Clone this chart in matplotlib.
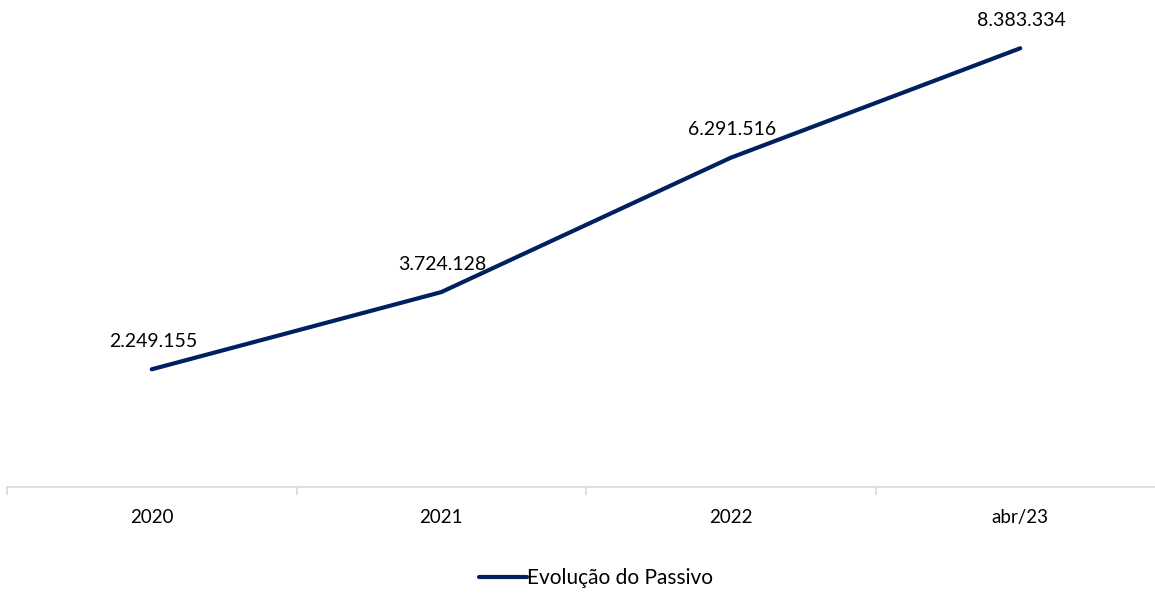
import numpy as np
import matplotlib.pyplot as plt

plt.rcParams['font.family'] = ['Lato', 'DejaVu Sans']

categorias = ['2020', '2021', '2022', 'abr/23']
passivo = [2249155, 3724128, 6291516, 8383334]
rotulos = ['2.249.155', '3.724.128', '6.291.516', '8.383.334']

W, H = 1155, 593
fig = plt.figure(figsize=(W / 100, H / 100), dpi=100)
# eixo vai de x=7 ate alem da borda direita (~1165)
ax = fig.add_axes([7 / W, (H - 487) / H, (1165 - 7) / W, (487 - 16) / H])

x = np.arange(len(categorias))
linha, = ax.plot(x, passivo, color='#002060', linewidth=3, solid_capstyle='round',
                 label='Evolução do Passivo')

for xi, v, r in zip(x, passivo, rotulos):
    ax.annotate(r, (xi, v), xytext=(1, 14), textcoords='offset points',
                ha='center', va='bottom', fontsize=14, color='#000000')

ax.set_xlim(-0.5, len(categorias) - 0.5)
ax.set_ylim(0, 9000000)

for s in ['top', 'right', 'left']:
    ax.spines[s].set_visible(False)
ax.spines['bottom'].set_color('#d9d9d9')
ax.spines['bottom'].set_linewidth(1.2)
ax.set_yticks([])

ax.set_xticks(x)
ax.set_xticklabels(categorias, fontsize=13.5)
ax.tick_params(axis='x', length=0, pad=16)
ax.set_xticks(np.arange(-0.5, len(categorias), 1), minor=True)
ax.tick_params(axis='x', which='minor', length=6, color='#d9d9d9', width=1.2)

fig.legend(handles=[linha], loc='center', bbox_to_anchor=(596 / W, 1 - 578 / H),
           frameon=False, fontsize=15, handlelength=2.3, handletextpad=0,
           borderaxespad=0)

fig.savefig('out.png', dpi=100)
